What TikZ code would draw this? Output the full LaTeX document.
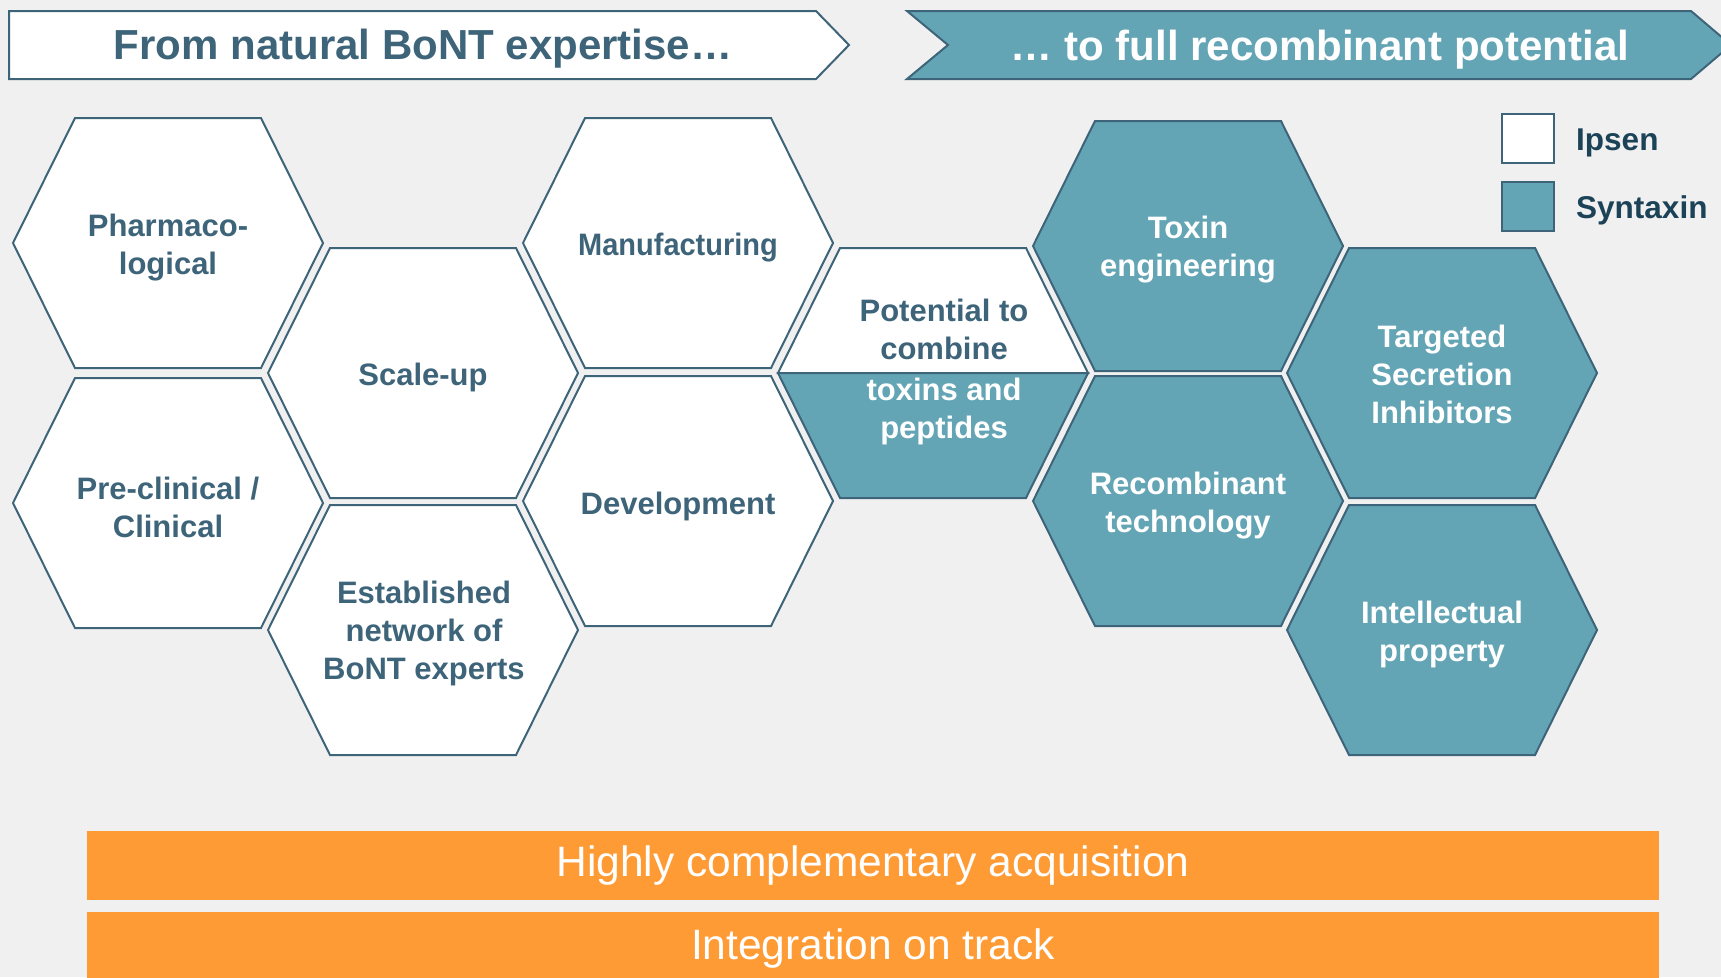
\documentclass[tikz,border=0pt]{standalone}
\usepackage{fontspec}
\setmainfont{Liberation Sans}
\definecolor{bg}{HTML}{F0F0F0}
\definecolor{edge}{HTML}{3E647A}
\definecolor{teal}{HTML}{63A5B5}
\definecolor{navy}{HTML}{1B4257}
\definecolor{orng}{HTML}{FF9B35}
\tikzset{
  hexagon/.pic={\path[pic actions] (-155,0) -- (-93,-125) -- (93,-125) -- (155,0) -- (93,125) -- (-93,125) -- cycle;},
  tophalf/.pic={\path[pic actions] (-155,0) -- (-93,-125) -- (93,-125) -- (155,0) -- cycle;},
  bothalf/.pic={\path[pic actions] (-155,0) -- (155,0) -- (93,125) -- (-93,125) -- cycle;},
  hexw/.style={fill=white,draw=edge,line width=2pt,line join=miter},
  hext/.style={fill=teal,draw=edge,line width=2pt,line join=miter},
  labd/.style={align=center,text=edge,font=\bfseries\fontsize{31}{38}\selectfont,inner sep=0pt},
  labw/.style={align=center,text=white,font=\bfseries\fontsize{31}{38}\selectfont,inner sep=0pt},
  banner/.style={draw=edge,line width=2pt,line join=miter},
  bartext/.style={text=white,font=\fontsize{42.5}{48}\selectfont,inner sep=0pt},
  legtext/.style={text=navy,font=\bfseries\fontsize{31.5}{36}\selectfont,anchor=west,inner sep=0pt},
}
\begin{document}
\begin{tikzpicture}[x=1pt,y=-1pt]
\useasboundingbox (0,0) rectangle (1721,977);
\fill[bg] (0,0) rectangle (1721,977);
\begin{scope}
\clip (0,0) rectangle (1721,977);
% banners
\path[banner,fill=white] (9,11) -- (816,11) -- (849,45) -- (816,79) -- (9,79) -- cycle;
\node[text=edge,font=\bfseries\fontsize{42}{48}\selectfont,inner sep=0pt] (b1) at (423,49) {From natural BoNT expertise…};
\path[banner,fill=teal] (907,11) -- (1691,11) -- (1731,45) -- (1691,79) -- (907,79) -- (948,45) -- cycle;
\node[text=white,font=\bfseries\fontsize{42}{48}\selectfont,inner sep=0pt] (b2) at (1320,50) {… to full recombinant potential};

% Ipsen hexagons
\pic[hexw] at (168,243) {hexagon};
\node[labd] (pharm) at (168,248) {Pharmaco-\\logical};
\pic[hexw] at (168,503) {hexagon};
\node[labd] (precl) at (168,507) {Pre-clinical /\\Clinical};
\pic[hexw] at (423,373) {hexagon};
\node[labd] (scale) at (423,377) {Scale-up};
\pic[hexw] at (423,630) {hexagon};
\node[labd] (estab) at (424,633) {Established\\network of\\BoNT experts};
\pic[hexw] at (678,243) {hexagon};
\node[labd] (manuf) at (678,248) {\scalebox{0.935}[1]{Manufacturing}};
\pic[hexw] at (678,501) {hexagon};
\node[labd] (devel) at (678,506) {Development};

% mixed hexagon
\pic[hexw] at (933,373) {tophalf};
\pic[hext] at (933,373) {bothalf};
\node[labd] (pot1) at (944,329) {Potential to\\combine};
\node[labw] (pot2) at (944,411) {toxins and\\peptides};

% Syntaxin hexagons
\pic[hext] at (1188,246) {hexagon};
\node[labw] (toxin) at (1188,250) {Toxin\\engineering};
\pic[hext] at (1188,501) {hexagon};
\node[labw] (recomb) at (1188,506) {Recombinant\\technology};
\pic[hext] at (1442,373) {hexagon};
\node[labw] (target) at (1442,374) {Targeted\\Secretion\\Inhibitors};
\pic[hext] at (1442,630) {hexagon};
\node[labw] (ip) at (1442,634) {Intellectual\\property};

% legend
\path[hexw] (1502,114) rectangle (1554,163);
\node[legtext] (ipsen) at (1576,143) {Ipsen};
\path[hext] (1502,182) rectangle (1554,231);
\node[legtext] (syntaxin) at (1576,210) {Syntaxin};

% bottom bars
\fill[orng] (87,831) rectangle (1659,900);
\node[bartext] (bar1) at (873,866) {Highly complementary acquisition};
\fill[orng] (87,912) rectangle (1659,990);
\node[bartext] (bar2) at (873,948) {Integration on track};
\end{scope}
\end{tikzpicture}
\end{document}
